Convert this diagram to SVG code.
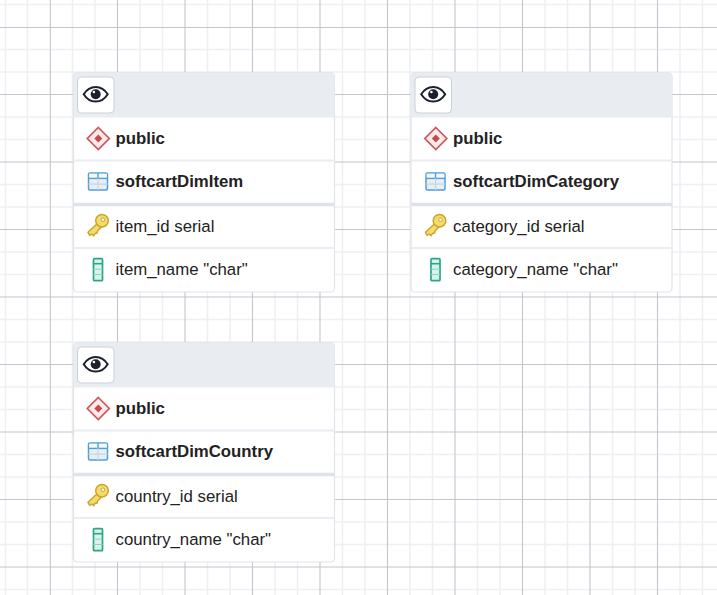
<svg xmlns="http://www.w3.org/2000/svg" xmlns:xlink="http://www.w3.org/1999/xlink" width="717" height="595" viewBox="0 0 717 595">
<style>
.minor{stroke:#eeeff4;stroke-width:1.5;fill:none}
.major{stroke:#c2c6d0;stroke-width:1.1;fill:none}
.card{fill:#fff;stroke:#dfe3eb;stroke-width:1.2}
.head{fill:#e9ecf1}
.sep{stroke:#e9ecf1;stroke-width:2;fill:none}
.sep2{stroke:#dfe2ea;stroke-width:3.500;fill:none}
.btn{fill:#fff;stroke:#ccd0d9;stroke-width:1}
text{font-family:"Liberation Sans",Arial,sans-serif;font-size:16.800px;fill:#222}
.b{font-weight:bold}
</style>
<defs>
<g id="eye">
<path d="M-12 0C-8.500 -5.600 -4 -7.300 0 -7.300C4 -7.300 8.500 -5.600 12 0C8.500 5.600 4 7.300 0 7.300C-4 7.300 -8.500 5.600 -12 0Z" fill="#fff" stroke="#1c202c" stroke-width="2"/>
<circle cx="0" cy="0" r="5" fill="#1c202c"/>
<circle cx="-1.800" cy="-2.200" r="1.300" fill="#fff"/>
</g>
<g id="schema">
<path d="M0 -11L11 0L0 11L-11 0Z" fill="#fbeaea" stroke="#c9575b" stroke-width="1.700"/>
<path d="M0 -4L4 0L0 4L-4 0Z" fill="#c9484d"/>
</g>
<g id="table">
<rect x="-9.500" y="-8.500" width="19" height="17" rx="1.500" fill="#e9eef2" stroke="#4f9fdc" stroke-width="1.500"/>
<path d="M-9.500 -3.200H9.500" stroke="#4f9fdc" stroke-width="1.600"/>
<path d="M-8.800 -7.800H8.800V-4H-8.800Z" fill="#f4f9fd"/>
<path d="M0 -8.500V-3.200" stroke="#4f9fdc" stroke-width="1.400"/>
<path d="M0 -3.200V8.500M-9.500 2.700H9.500" stroke="#c5d6e3" stroke-width="1.200"/>
</g>
<g id="key">
<path d="M0 -4L-10.500 5.800L-8.800 9L-6.800 7.500L-4.800 9.200L-3.600 7L-1.400 6.500L-1 4.500L3.500 0" fill="#f4dc6c" stroke="#cba52d" stroke-width="1.500" stroke-linejoin="round"/>
<circle cx="3.500" cy="-5.800" r="6.300" fill="#f4dc6c" stroke="#cba52d" stroke-width="1.500"/>
<circle cx="4.500" cy="-6.800" r="1.800" fill="#fff" stroke="#cba52d" stroke-width="1"/>
</g>
<g id="column">
<rect x="-4.500" y="-11" width="9" height="22" rx="1" fill="#d8f3ea" stroke="#2ba58a" stroke-width="1.700"/>
<path d="M-4.500 -6H4.500" stroke="#2ba58a" stroke-width="1.600"/>
<path d="M-4.500 -0.500H4.500M-4.500 4.800H4.500" stroke="#8fd2c0" stroke-width="1"/>
</g>
<g id="frame">
<rect class="card" x="0" y="0" width="261" height="219.500" rx="4"/>
<path class="head" d="M0 45V4a4 4 0 0 1 4-4H257a4 4 0 0 1 4 4V45Z"/>
<path class="sep" d="M0 88H261"/>
<path class="sep2" d="M0 132H261"/>
<path class="sep" d="M0 175.500H261"/>
<rect class="btn" x="4" y="4.500" width="36.500" height="36" rx="4"/>
<use xlink:href="#eye" href="#eye" x="22.200" y="21.700"/>
<use xlink:href="#schema" href="#schema" x="24.800" y="66"/>
<use xlink:href="#table" href="#table" x="24.500" y="109"/>
<use xlink:href="#key" href="#key" x="25" y="154"/>
<use xlink:href="#column" href="#column" x="24.500" y="197.200"/>
</g>
</defs>
<rect width="717" height="595" fill="#fff"/>
<g id="grid">
<path class="minor" d="M5.500 0V595M27.500 0V595M72.500 0V595M95 0V595M140 0V595M162.500 0V595M207.500 0V595M230 0V595M275 0V595M297.500 0V595M342.500 0V595M365 0V595M410 0V595M432.500 0V595M477.500 0V595M500 0V595M545 0V595M567.500 0V595M612.500 0V595M635 0V595M680 0V595M702.500 0V595"/>
<path class="minor" d="M0 4.500H717M0 49.500H717M0 72H717M0 117H717M0 139.500H717M0 184.500H717M0 207H717M0 252H717M0 274.500H717M0 319.500H717M0 342H717M0 387H717M0 409.500H717M0 454.500H717M0 477H717M0 522H717M0 544.500H717M0 589.500H717"/>
<path class="major" d="M50.300 0V595M117.500 0V595M185 0V595M252.500 0V595M320 0V595M387.500 0V595M455 0V595M522.500 0V595M590 0V595M657.500 0V595"/>
<path class="major" d="M0 27.500H717M0 94.500H717M0 162H717M0 229.500H717M0 297H717M0 364.500H717M0 432H717M0 499.500H717M0 567H717"/>
</g>
<g id="connectors"></g>
<g id="node-softcartDimItem" transform="translate(73.500 72.500)">
<use xlink:href="#frame" href="#frame"/>
<text class="b" x="42" y="71.500">public</text>
<text class="b" x="42" y="114.500">softcartDimItem</text>
<text x="42" y="159.500">item_id serial</text>
<text x="42" y="202.500">item_name "char"</text>
</g>
<g id="node-softcartDimCategory" transform="translate(411 72.500)">
<use xlink:href="#frame" href="#frame"/>
<text class="b" x="42" y="71.500">public</text>
<text class="b" x="42" y="114.500">softcartDimCategory</text>
<text x="42" y="159.500">category_id serial</text>
<text x="42" y="202.500">category_name "char"</text>
</g>
<g id="node-softcartDimCountry" transform="translate(73.500 342.500)">
<use xlink:href="#frame" href="#frame"/>
<text class="b" x="42" y="71.500">public</text>
<text class="b" x="42" y="114.500">softcartDimCountry</text>
<text x="42" y="159.500">country_id serial</text>
<text x="42" y="202.500">country_name "char"</text>
</g>
</svg>
